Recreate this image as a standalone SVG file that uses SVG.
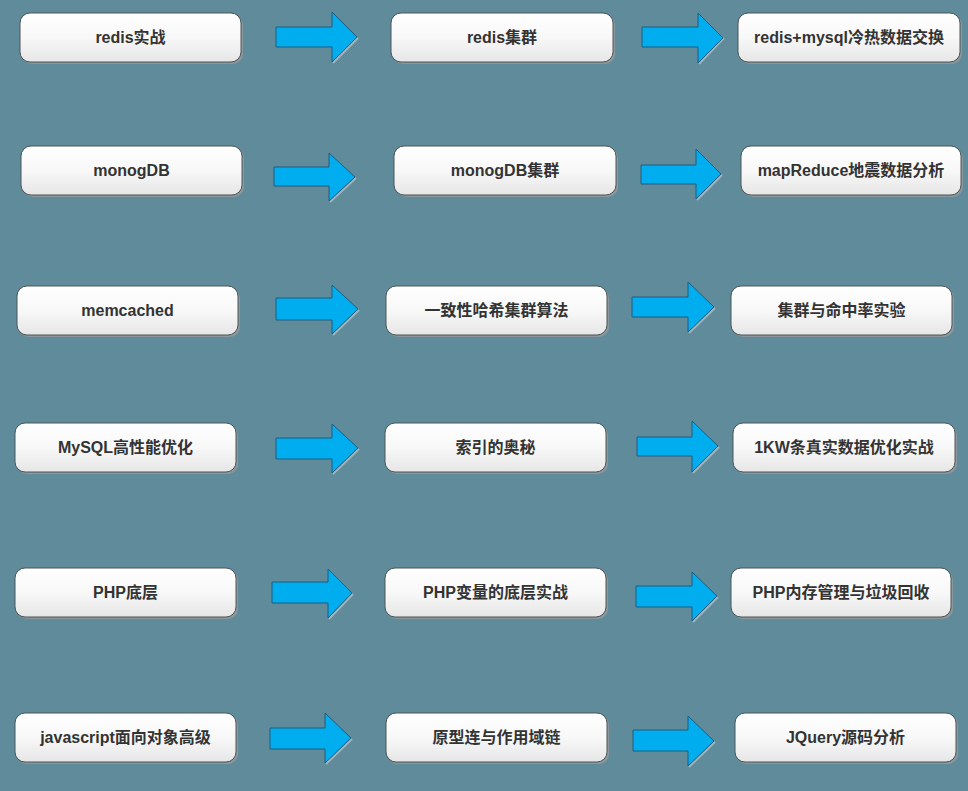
<svg xmlns="http://www.w3.org/2000/svg" width="968" height="791" viewBox="0 0 968 791">
<defs>
<linearGradient id="g" x1="0" y1="0" x2="0" y2="1">
<stop offset="0" stop-color="#ffffff"/>
<stop offset="0.5" stop-color="#f8f8f8"/>
<stop offset="1" stop-color="#e6e6e6"/>
</linearGradient>
</defs>
<style>
.sh{fill:#8b979c}
.bx{fill:url(#g);stroke:#4b5457;stroke-width:1}
.t{font-family:"Liberation Sans","Noto Sans CJK SC",sans-serif;font-size:16px;font-weight:bold;fill:#333333;text-anchor:middle}
.ar{fill:#00aeef;stroke:#1f5d80;stroke-width:1}
.as{fill:none;stroke:#9fb4bc;stroke-width:2}
</style>
<rect width="968" height="791" fill="#5f8b9b"/>
<g id="connectors">
<g><polyline class="as" points="358,38 333,63"/><polygon class="ar" points="276,27 332,27 332,12 357,37 332,62 332,47 276,47"/></g>
<g><polyline class="as" points="724,38 699,64"/><polygon class="ar" points="642,27 698,27 698,13 723,38 698,63 698,47 642,47"/></g>
<g><polyline class="as" points="356,178 330,202"/><polygon class="ar" points="274,167 329,167 329,153 355,177 329,201 329,186 274,186"/></g>
<g><polyline class="as" points="722,175 697,200"/><polygon class="ar" points="641,165 696,165 696,149 721,174 696,199 696,184 641,184"/></g>
<g><polyline class="as" points="359,310 333,335"/><polygon class="ar" points="276,298 332,298 332,285 358,309 332,334 332,320 276,320"/></g>
<g><polyline class="as" points="715,308 689,333"/><polygon class="ar" points="632,297 688,297 688,282 714,307 688,332 688,317 632,317"/></g>
<g><polyline class="as" points="359,449 333,474"/><polygon class="ar" points="276,438 332,438 332,424 358,448 332,473 332,459 276,459"/></g>
<g><polyline class="as" points="719,447 693,473"/><polygon class="ar" points="637,437 692,437 692,421 718,446 692,472 692,456 637,456"/></g>
<g><polyline class="as" points="353,594 329,619"/><polygon class="ar" points="272,582 328,582 328,569 352,593 328,618 328,603 272,603"/></g>
<g><polyline class="as" points="718,597 693,622"/><polygon class="ar" points="636,586 692,586 692,572 717,596 692,621 692,607 636,607"/></g>
<g><polyline class="as" points="352,739 326,764"/><polygon class="ar" points="270,728 325,728 325,713 351,738 325,763 325,749 270,749"/></g>
<g><polyline class="as" points="715,742 689,767"/><polygon class="ar" points="633,730 688,730 688,716 714,741 688,766 688,751 633,751"/></g>
</g>
<g id="n1"><rect class="sh" x="22" y="15" width="221" height="49" rx="10"/><rect class="bx" x="20" y="13" width="221" height="49" rx="10"/><text class="t" x="130.5" y="43">redis实战</text></g>
<g id="n2"><rect class="sh" x="393" y="15" width="222" height="49" rx="10"/><rect class="bx" x="391" y="13" width="222" height="49" rx="10"/><text class="t" x="502" y="43">redis集群</text></g>
<g id="n3"><rect class="sh" x="740" y="15" width="222" height="49" rx="10"/><rect class="bx" x="738" y="13" width="222" height="49" rx="10"/><text class="t" x="849" y="43">redis+mysql冷热数据交换</text></g>
<g id="n4"><rect class="sh" x="23" y="148" width="221" height="49" rx="10"/><rect class="bx" x="21" y="146" width="221" height="49" rx="10"/><text class="t" x="131.5" y="176">monogDB</text></g>
<g id="n5"><rect class="sh" x="396" y="148" width="222" height="49" rx="10"/><rect class="bx" x="394" y="146" width="222" height="49" rx="10"/><text class="t" x="505" y="176">monogDB集群</text></g>
<g id="n6"><rect class="sh" x="743" y="148" width="220" height="49" rx="10"/><rect class="bx" x="741" y="146" width="220" height="49" rx="10"/><text class="t" x="851" y="176">mapReduce地震数据分析</text></g>
<g id="n7"><rect class="sh" x="19" y="288" width="221" height="49" rx="10"/><rect class="bx" x="17" y="286" width="221" height="49" rx="10"/><text class="t" x="127.5" y="316">memcached</text></g>
<g id="n8"><rect class="sh" x="388" y="288" width="221" height="49" rx="10"/><rect class="bx" x="386" y="286" width="221" height="49" rx="10"/><text class="t" x="496.5" y="316">一致性哈希集群算法</text></g>
<g id="n9"><rect class="sh" x="733" y="288" width="221" height="49" rx="10"/><rect class="bx" x="731" y="286" width="221" height="49" rx="10"/><text class="t" x="841.5" y="316">集群与命中率实验</text></g>
<g id="n10"><rect class="sh" x="17" y="425" width="221" height="49" rx="10"/><rect class="bx" x="15" y="423" width="221" height="49" rx="10"/><text class="t" x="125.5" y="453">MySQL高性能优化</text></g>
<g id="n11"><rect class="sh" x="387" y="425" width="221" height="49" rx="10"/><rect class="bx" x="385" y="423" width="221" height="49" rx="10"/><text class="t" x="495.5" y="453">索引的奥秘</text></g>
<g id="n12"><rect class="sh" x="735" y="425" width="222" height="49" rx="10"/><rect class="bx" x="733" y="423" width="222" height="49" rx="10"/><text class="t" x="844" y="453">1KW条真实数据优化实战</text></g>
<g id="n13"><rect class="sh" x="17" y="570" width="221" height="49" rx="10"/><rect class="bx" x="15" y="568" width="221" height="49" rx="10"/><text class="t" x="125.5" y="598">PHP底层</text></g>
<g id="n14"><rect class="sh" x="387" y="570" width="221" height="49" rx="10"/><rect class="bx" x="385" y="568" width="221" height="49" rx="10"/><text class="t" x="495.5" y="598">PHP变量的底层实战</text></g>
<g id="n15"><rect class="sh" x="733" y="570" width="220" height="49" rx="10"/><rect class="bx" x="731" y="568" width="220" height="49" rx="10"/><text class="t" x="841" y="598">PHP内存管理与垃圾回收</text></g>
<g id="n16"><rect class="sh" x="17" y="715" width="221" height="49" rx="10"/><rect class="bx" x="15" y="713" width="221" height="49" rx="10"/><text class="t" x="125.5" y="743">javascript面向对象高级</text></g>
<g id="n17"><rect class="sh" x="388" y="715" width="221" height="49" rx="10"/><rect class="bx" x="386" y="713" width="221" height="49" rx="10"/><text class="t" x="496.5" y="743">原型连与作用域链</text></g>
<g id="n18"><rect class="sh" x="737" y="715" width="221" height="49" rx="10"/><rect class="bx" x="735" y="713" width="221" height="49" rx="10"/><text class="t" x="845.5" y="743">JQuery源码分析</text></g>
</svg>
